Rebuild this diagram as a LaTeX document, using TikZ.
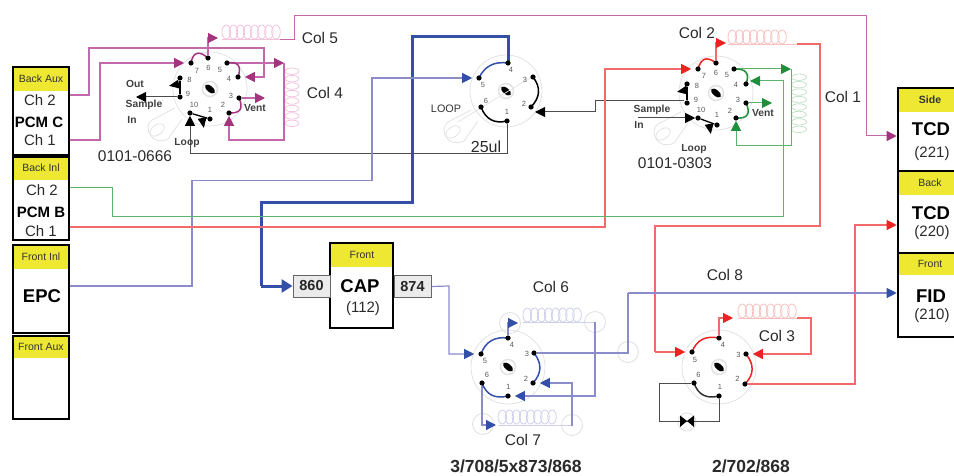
\documentclass[tikz,border=0pt]{standalone}
\usepackage{fontspec}
\setmainfont{Liberation Sans}
\usetikzlibrary{arrows.meta,calc,backgrounds}
\definecolor{magline}{HTML}{C468AC}
\definecolor{magtip}{HTML}{A5347F}
\definecolor{redline}{HTML}{F26A6A}
\definecolor{redtip}{HTML}{EE2222}
\definecolor{grnline}{HTML}{5CB56C}
\definecolor{grntip}{HTML}{1F8F3C}
\definecolor{bluline}{HTML}{8A8CCB}
\definecolor{blutip}{HTML}{3350A8}
\definecolor{txt}{HTML}{2A2A2A}
\definecolor{hdr}{HTML}{EEE832}
\definecolor{vgray}{HTML}{E2E2E2}
\definecolor{pinkc}{HTML}{F2C4DC}
\definecolor{redc}{HTML}{F9C0C0}
\definecolor{grnc}{HTML}{C4E2CA}
\definecolor{bluc}{HTML}{CFD0EC}
\newcommand{\coilH}[4]{\foreach \ci in {0,...,7} {\draw[#4,line width=.8pt] ({#1+4.3+\ci*7.1},#2) ellipse (4.3 and #3);}}
\newcommand{\coilV}[4]{\foreach \ci in {0,...,7} {\draw[#4,line width=.8pt] (#1,{#2+3.2+\ci*7.45}) ellipse (#3 and 3.2);}}
\newcommand{\valvebody}[3]{%
  \draw[vgray,line width=.8pt] (#1,#2) circle (#3);
  \draw[vgray,line width=1.5pt] (#1,#2) circle (7.5);
  \fill[black,rotate around={-40:(#1,#2)}] (#1,#2) ellipse (6 and 3);
}
\newcommand{\valvehandle}[2]{%
  \draw[vgray,line width=.8pt] ({#1-35},{#2+19}) -- ({#1-58},{#2+31}) .. controls ({#1-68},{#2+38}) and ({#1-58},{#2+58}) .. ({#1-42},{#2+50}) -- ({#1-28},{#2+30});
  \draw[vgray,line width=.8pt,rotate around={35:({#1-53},{#2+41})}] ({#1-53},{#2+41}) ellipse (8 and 5);
}
\newcommand{\portarc}[4]{\draw[#4,line width=1.5pt] (#1.center) .. controls ($(#1)!.667!($(#3)!1.5!($(#1)!.5!(#2)$)$)$) and ($(#2)!.667!($(#3)!1.5!($(#1)!.5!(#2)$)$)$) .. (#2.center);}
\newcommand{\blackwedge}[3]{\fill[black,rotate around={#3:(#1,#2)}] ({#1-5},{#2-4.5}) -- ({#1+5},#2) -- ({#1-5},{#2+4.5}) -- cycle;}
\tikzset{
  x=1pt,y=-1pt,
  fs/.style={font=\fontsize{#1}{#1}\selectfont},
  lab/.style={text=txt,inner sep=0pt},
  collab/.style={lab,fs=15.5},
  vlab/.style={lab,font=\fontsize{10.3}{11}\selectfont\bfseries,text=black!75},
  port/.style={circle,fill=black,inner sep=0pt,minimum size=5.2pt},
  pnum/.style={lab,font=\fontsize{7.5}{8}\selectfont,text=black!65},
  boxout/.style={draw=black,line width=2.6pt,inner sep=0pt},
  hlab/.style={lab,text=black!80,font=\fontsize{10.5}{11}\selectfont},
  bigt/.style={lab,font=\fontsize{18.5}{19}\selectfont\bfseries,text=black},
  smallt/.style={lab,fs=15},
  chtext/.style={lab,fs=15},
  pcm/.style={lab,font=\fontsize{15}{16}\selectfont\bfseries,text=black},
  portbox/.style={draw=black!60,fill=black!8,line width=.9pt,minimum width=37pt,minimum height=22pt,inner sep=0pt,font=\fontsize{14.5}{15}\selectfont\bfseries,text=black!85},
  magw/.style={draw=magline,line width=1.2pt},
  redw/.style={draw=redline,line width=1.1pt},
  grnw/.style={draw=grnline,line width=1pt},
  bluw/.style={draw=bluline,line width=1.2pt},
  blkw/.style={draw=black!70,line width=1pt},
  magA/.style={magw,-{Triangle[length=10pt,width=10pt,color=magtip,fill=magtip]}},
  redA/.style={redw,-{Triangle[length=10pt,width=10pt,color=redtip,fill=redtip]}},
  grnA/.style={grnw,-{Triangle[length=10pt,width=10pt,color=grntip,fill=grntip]}},
  bluA/.style={bluw,-{Triangle[length=10pt,width=10pt,color=blutip,fill=blutip]}},
  blkA/.style={blkw,-{Triangle[length=10pt,width=10pt,color=black,fill=black]}},
  thickblue/.style={draw=blutip,line width=3pt},
  stopat/.style={shorten >=#1pt},
}
\begin{document}
\begin{tikzpicture}
\path[use as bounding box,clip] (0,0) rectangle (954,476);
% ---- left boxes
\fill[hdr] (13,68) rectangle (69,91);
\fill[hdr] (13,158) rectangle (69,180);
\fill[hdr] (13,246) rectangle (69,269);
\fill[hdr] (13,337) rectangle (69,358);
\node[boxout,minimum width=56pt,minimum height=88pt] (backaux) at (41,111) {};
\node[boxout,minimum width=56pt,minimum height=83pt] (backinl) at (41,198.5) {};
\node[boxout,minimum width=56pt,minimum height=88pt] (frontinl) at (41,289) {};
\node[boxout,minimum width=56pt,minimum height=83pt] (frontaux) at (41,377.5) {};
\node[hlab] (h1) at (41,79) {Back Aux};
\node[hlab] (h2) at (41,168) {Back Inl};
\node[hlab] (h3) at (41,257) {Front Inl};
\node[hlab] (h4) at (41,347) {Front Aux};
\node[chtext] (c2) at (40,100) {Ch 2};
\node[pcm] (pc) at (39,122) {PCM C};
\node[chtext] (c1) at (40,140) {Ch 1};
\node[chtext] (b2) at (42,190) {Ch 2};
\node[pcm] (pb) at (41,212) {PCM B};
\node[chtext] (b1) at (41,231) {Ch 1};
\node[bigt] (epc) at (42,296) {EPC};
% ---- right boxes
\fill[hdr] (898,89) rectangle (956,112);
\fill[hdr] (898,172) rectangle (956,195);
\fill[hdr] (898,254) rectangle (956,275);
\node[boxout,minimum width=60pt,minimum height=83pt] (side) at (928,129.5) {};
\node[boxout,minimum width=60pt,minimum height=82pt] (back) at (928,212) {};
\node[boxout,minimum width=60pt,minimum height=84pt] (front) at (928,295) {};
\node[lab,text=black!80,font=\fontsize{10.5}{11}\selectfont\bfseries] (h5) at (930,100) {Side};
\node[hlab] (h6) at (930,183) {Back};
\node[hlab] (h7) at (930,264) {Front};
\node[bigt] (t1) at (931,129) {TCD};
\node[smallt] (n1) at (932,154) {(221)};
\node[bigt] (t2) at (931,213) {TCD};
\node[smallt] (n2) at (932,233) {(220)};
\node[bigt] (t3) at (931,296) {FID};
\node[smallt] (n3) at (932,316) {(210)};
% ---- CAP
\fill[hdr] (330,244) rectangle (393,267);
\node[boxout,minimum width=63pt,minimum height=85pt] (cap) at (361.5,285.5) {};
\node[hlab] (h8) at (362,255) {Front};
\node[bigt] (t4) at (360,286) {CAP};
\node[smallt] (n4) at (363,309) {(112)};
\node[portbox] (p860) at (311.5,286) {860};
\node[portbox] (p874) at (412.5,286.5) {874};
% ---- valve ports
\foreach \n/\x/\y/\lx/\ly in {6/208/58/208.5/68,7/191/63/197/71,5/227/63/220/70,4/238/77/229/79,3/239/98/231/96,2/229/113/223/105,1/210/119/210/110,10/190/113/194/105,9/180/97/188/94,8/180/78/189.5/80}
  {\node[port] (v1p\n) at (\x,\y) {}; \node[pnum] at (\lx,\ly) {\n};}
\foreach \n/\x/\y/\lx/\ly in {4/508/63/511/70,5/479/78/483/85,3/533/77/525/80,2/531/107/524/104,1/507/121/507/112,6/481/107/486/101}
  {\node[port] (v2p\n) at (\x,\y) {}; \node[pnum] at (\lx,\ly) {\n};}
\foreach \n/\x/\y/\lx/\ly in {6/716/63/716/73,7/698/69/704/76,5/734/69/727/75,4/746/84/736/85,3/746/103/738/100,2/736/118/730/111,1/717/125/717/115,10/698/118/701/110,9/687/103/696/100,8/687/84/697/86}
  {\node[port] (v3p\n) at (\x,\y) {}; \node[pnum] at (\lx,\ly) {\n};}
\foreach \n/\x/\y/\lx/\ly in {4/508/338/512/345,5/481/354/485/361,3/534/353/527/354,2/533/383/526/379,1/508/396/508.5/387,6/482/383/487/375}
  {\node[port] (v4p\n) at (\x,\y) {}; \node[pnum] at (\lx,\ly) {\n};}
\foreach \n/\x/\y/\lx/\ly in {4/719/338/723/345,5/692/352/695/360,3/746/354/738.5/355,2/745/384/737.5/379,1/719/396/720/387,6/694/383/698.5/375}
  {\node[port] (v5p\n) at (\x,\y) {}; \node[pnum] at (\lx,\ly) {\n};}
\coordinate (v1c) at (210,89);\coordinate (v2c) at (506,91);\coordinate (v3c) at (716,93);\coordinate (v4c) at (508,367);\coordinate (v5c) at (719,367);
% ---- black wedges on the ten-port valves
\blackwedge{174}{85}{190}
\blackwedge{203}{123}{280}
\blackwedge{682}{91}{190}
\blackwedge{710}{129}{280}
% ---- labels
\node[collab] (l5) at (320,38) {Col 5};
\node[collab] (l4) at (325,93) {Col 4};
\node[collab] (l2) at (697,33) {Col 2};
\node[collab] (l1) at (843,97) {Col 1};
\node[collab] (l8) at (725,275) {Col 8};
\node[collab] (l6) at (551,287) {Col 6};
\node[collab] (l7) at (523,440) {Col 7};
\node[collab] (l3) at (777,336) {Col 3};
\node[lab,font=\fontsize{17.5}{18}\selectfont\bfseries] (m1) at (516,466) {3/708/5x873/868};
\node[lab,font=\fontsize{17.5}{18}\selectfont\bfseries] (m2) at (751,466) {2/702/868};
\node[lab,fs=16] (m3) at (486,147) {25ul};
\node[lab,fs=10.8,text=black!80] (m4) at (446,109) {LOOP};
\node[lab,fs=15.5] (m5) at (135,156) {0101-0666};
\node[lab,fs=15.5] (m6) at (675,163) {0101-0303};
\node[vlab] (m7) at (135,84) {Out};
\node[vlab] (m8) at (144,105) {Sample};
\node[vlab] (m9) at (132,120) {In};
\node[vlab] (m10) at (255,108) {Vent};
\node[vlab] (m11) at (187,143) {Loop};
\node[vlab] (m12) at (652,110) {Sample};
\node[vlab] (m13) at (639,125) {In};
\node[vlab] (m14) at (763,113) {Vent};
\node[vlab] (m15) at (694,149) {Loop};
% ---- everything behind the nodes
\begin{scope}[on background layer]
\valvebody{210}{89}{37}\valvehandle{210}{89}
\valvebody{506}{91}{36}\valvehandle{506}{91}
\draw[vgray,line width=.7pt] (533,76) -- (458,122);
\valvebody{716}{93}{37}\valvehandle{716}{93}
\valvebody{508}{367}{37}
\valvebody{719}{367}{37}
% coils
\coilH{222}{32}{7}{pinkc}
\coilV{292}{68}{7}{pinkc}
\coilH{728}{37}{7}{redc}
\coilV{799}{74}{7.5}{grnc}
\coilH{738}{311}{7}{redc}
\coilH{523}{315}{7}{bluc}
\coilH{498}{417}{7}{bluc}
% coupler circles
\foreach \cx/\cy in {510/323,595/322,628/352,572/425,483/424}
  \draw[vgray,line width=.9pt] (\cx,\cy) circle (10.5);
\draw[vgray,line width=.9pt] (687,422) circle (9);
% thin coil leads
\draw[pinkc,line width=.9pt] (222,39) -- (280,39);
\draw[redc,line width=.9pt] (728,44) -- (797,44);
\draw[redc,line width=.9pt] (738,318) -- (797,318);
\draw[bluc,line width=.9pt] (523,322) -- (595,322);
\draw[bluc,line width=.9pt] (498,425) -- (572,425);
% ---- magenta
\draw[magA,stopat=4] (backaux.east |- 0,95) -- (89,95) -- (89,48) -- (264,48) -- (264,77) -- (v1p4);
\draw[magA,stopat=4] (backaux.east |- 0,140) -- (100,140) -- (100,63) -- (v1p7);
\draw[magA] (v1p6) -- (208,38) -- (218,38);
\draw[magw,line width=.8pt] (280,39) -- (294,39) -- (294,15);
\draw[magA,line width=1pt] (294,15.5) -- (866,15.5) -- (866,136) -- (side.west |- 866,136);
\draw[magA] (v1p5) -- (284,63);
\draw[magA] (284,63) -- (284,140) -- (229,140) -- (v1p2);
\draw[magA] (v1p3) -- (265,98);
\portarc{v1p7}{v1p6}{v1c}{magtip}
\portarc{v1p5}{v1p4}{v1c}{magtip}
\portarc{v1p3}{v1p2}{v1c}{magtip}
% ---- loop line and black wiring of valve 1
\draw[blkA] (v2p1) -- (507,154) -- (190,154) -- (v1p10);
\draw[blkA] (v1p9) -- (136,97);
\draw[black,line width=1.3pt] (v1p8) -- (v1p9);
\draw[black,line width=1.3pt] (v1p10) -- (v1p1);
% ---- loop valve
\draw[thickblue] (v2p4.center) -- (508,37) -- (412,37) -- (412,203) -- (261,203) -- (261,286);
\draw[thickblue,-{Triangle[length=11pt,width=13pt,color=blutip,fill=blutip]}] (261,286) -- (p860.west);
\draw[bluA,stopat=4] (frontinl.east |- 69,286) -- (192,286) -- (192,180.5) -- (372,180.5) -- (372,78) -- (v2p5);
\draw[blkA,stopat=4] (v3p9.west |- 0,101) -- (595,101) -- (595,112) -- (v2p2 |- 595,112);
\portarc{v2p5}{v2p4}{v2c}{blutip}
\portarc{v2p3}{v2p2}{v2c}{black}
\portarc{v2p6}{v2p1}{v2c}{black}
% ---- valve 3
\draw[redA,stopat=4] (backinl.east |- 0,227) -- (605,227) -- (605,69) -- (v3p7);
\draw[redA] (v3p6) -- (716,43) -- (726,43);
\draw[redw] (797,44) -- (820,44) -- (820,226) -- (655,226) -- (655,352);
\draw[redA,stopat=4] (655,352) -- (v5p5);
\draw[grnw] (backinl.east |- 0,188) -- (112,188) -- (112,217) -- (783,217);
\draw[grnA,stopat=4] (783,217) -- (783,81) -- (v3p4 |- 783,81);
\draw[grnA] (v3p5) -- (791,69);
\draw[grnA] (791,69) -- (791,146) -- (736,146) -- (v3p2);
\draw[grnA] (v3p3) -- (772,103);
\draw[blkA] (638,118) -- (v3p10);
\draw[black,line width=1.3pt] (v3p8) -- (v3p9);
\draw[black,line width=1.3pt] (v3p10) -- (v3p1);
\portarc{v3p7}{v3p6}{v3c}{redtip}
\portarc{v3p5}{v3p4}{v3c}{grntip}
\portarc{v3p3}{v3p2}{v3c}{grntip}
% ---- valve 5
\draw[redA] (v5p4) -- (719,318) -- (733,318);
\draw[redA,stopat=4] (797,318) -- (811,318) -- (811,354) -- (v5p3);
\draw[redA] (v5p2) -- (855,384) -- (855,225) -- (back.west |- 855,225);
\draw[blkw] (v5p6) -- (659,383) -- (659,421) -- (719,421) -- (v5p1);
\portarc{v5p5}{v5p4}{v5c}{redtip}
\portarc{v5p3}{v5p2}{v5c}{redtip}
\portarc{v5p6}{v5p1}{v5c}{black!80}
% ---- valve 4
\draw[bluA,stopat=4] (p874.east) -- (449,286) -- (449,354) -- (v4p5);
\draw[bluA] (v4p4) -- (508,323) -- (518,323);
\draw[bluA,stopat=4] (595,322) -- (595,396) -- (v4p1);
\draw[bluw] (v4p3) -- (628,353) -- (628,293);
\draw[bluA] (628,293) -- (front.west |- 628,293);
\draw[bluA,stopat=4] (572,426) -- (572,383) -- (v4p2);
\draw[bluA] (v4p6) -- (482,425) -- (496,425);
\portarc{v4p5}{v4p4}{v4c}{blutip}
\portarc{v4p3}{v4p2}{v4c}{blutip}
\portarc{v4p6}{v4p1}{v4c}{blutip}
\end{scope}
% bow-tie valve in the valve 5 line
\fill[black] (680,415.5) -- (687,421) -- (680,427) -- cycle;
\fill[black] (694,415.5) -- (687,421) -- (694,427) -- cycle;
\end{tikzpicture}
\end{document}
